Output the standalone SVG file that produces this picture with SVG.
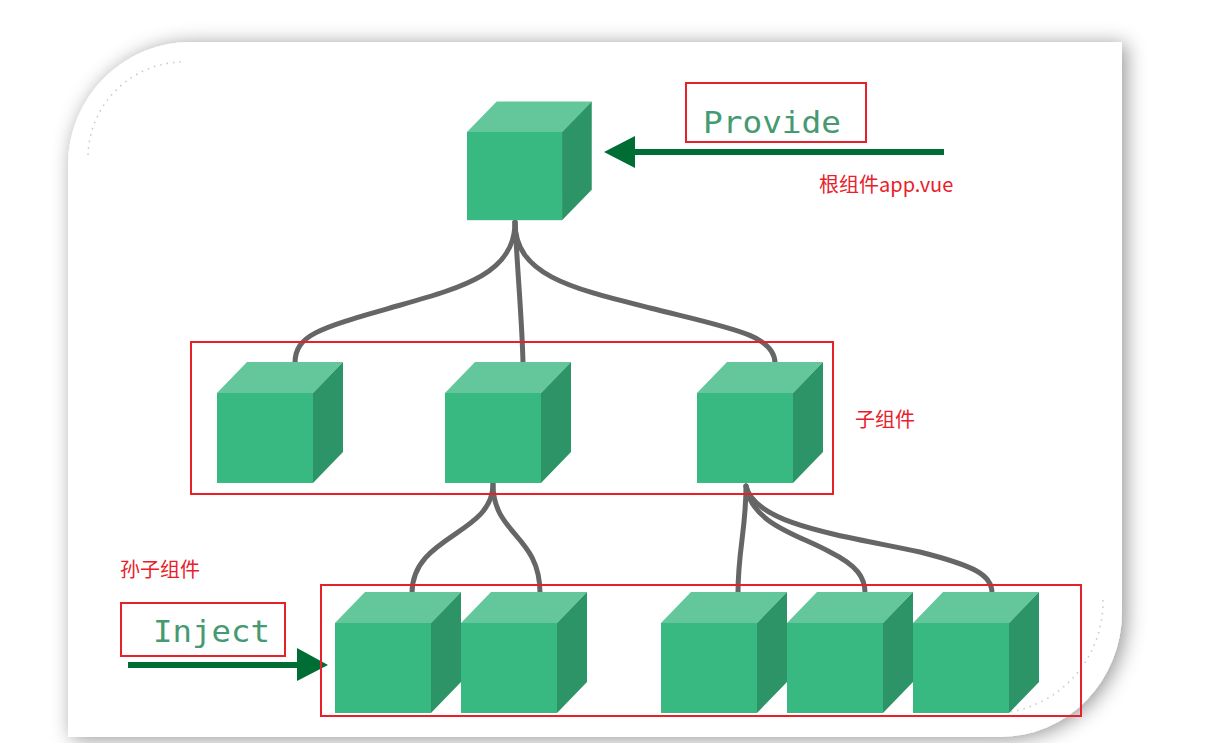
<svg xmlns="http://www.w3.org/2000/svg" xmlns:xlink="http://www.w3.org/1999/xlink" width="1229" height="743" viewBox="0 0 1229 743">
<style>
.card{fill:#ffffff}
.link{fill:none;stroke:#666666;stroke-width:5;stroke-linecap:round}
.arrow{fill:none;stroke:#006d34;stroke-width:6}
.head{fill:#006d34}
.redbox{fill:none;stroke:#e8202a;stroke-width:2}
.redtxt{fill:#e8202a;font-family:"Noto Sans CJK SC","Liberation Sans",sans-serif;font-size:20px}
.code{fill:#459a71;font-family:"DejaVu Sans Mono","Liberation Mono",monospace;font-size:30px}
.dots{fill:none;stroke:#c8c8c8;stroke-width:1.5;stroke-dasharray:1.5 5}
.front{fill:#39b982}
.top{fill:#63c79b}
.side{fill:#2d9467}
</style>
<defs>
<filter id="shadow" x="-10%" y="-10%" width="120%" height="120%">
<feDropShadow dx="4" dy="2" stdDeviation="10" flood-color="#000" flood-opacity="0.42"/>
</filter>
<g id="cube">
<polygon class="top" points="0,0 30,-31 126,-31 96,0"/>
<polygon class="side" points="96,0 126,-31 126,59 96,90"/>
<rect class="front" x="0" y="0" width="96" height="90"/>
</g>
</defs>
<rect width="1229" height="743" fill="#ffffff"/>
<path class="card" filter="url(#shadow)" d="M68,750 L68,165 A123,123 0 0 1 191,42 L1122,42 L1122,612 A122,125 0 0 1 1000,737 L68,737 Z"/>
<path class="dots" d="M88,155 A96,96 0 0 1 182,62"/>
<path class="dots" d="M1103,600 A112,112 0 0 1 1010,712"/>
<g id="connectors">
<path class="link" d="M515,222 C515,275 460,288 390,308 C320,328 295,335 295,363"/>
<path class="link" d="M515,222 C518,280 522,320 523,363"/>
<path class="link" d="M515,222 C515,275 570,288 650,308 C730,328 775,335 775,363"/>
<path class="link" d="M493,484 C493,535 412,535 412,593"/>
<path class="link" d="M493,484 C493,535 540,535 540,593"/>
<path class="link" d="M746,486 C746,530 738,550 738,593"/>
<path class="link" d="M746,486 C752,525 800,535 830,552 C858,566 865,578 865,593"/>
<path class="link" d="M746,486 C756,525 840,535 920,552 C975,566 992,575 992,593"/>
<line class="arrow" x1="944" y1="152" x2="630" y2="152"/>
<polygon class="head" points="604,152 635,136 635,168"/>
<line class="arrow" x1="128" y1="665" x2="300" y2="665"/>
<polygon class="head" points="328,665 297,648 297,681"/>
</g>
<g id="root-cube"><use xlink:href="#cube" transform="translate(467,132) scale(0.99,0.98)"/></g>
<g id="child-1"><use xlink:href="#cube" transform="translate(217,393)"/></g>
<g id="child-2"><use xlink:href="#cube" transform="translate(445,393)"/></g>
<g id="child-3"><use xlink:href="#cube" transform="translate(697,393)"/></g>
<g id="grandchild-1"><use xlink:href="#cube" transform="translate(335,623)"/></g>
<g id="grandchild-2"><use xlink:href="#cube" transform="translate(461,623)"/></g>
<g id="grandchild-3"><use xlink:href="#cube" transform="translate(661,623)"/></g>
<g id="grandchild-4"><use xlink:href="#cube" transform="translate(787,623)"/></g>
<g id="grandchild-5"><use xlink:href="#cube" transform="translate(913,623)"/></g>
<g id="provide">
<rect class="redbox" x="686" y="83" width="180" height="59"/>
<text class="code" x="703" y="133" textLength="138" lengthAdjust="spacingAndGlyphs">Provide</text>
</g>
<g id="inject">
<rect class="redbox" x="121" y="603" width="164" height="53"/>
<text class="code" x="153" y="642" textLength="117" lengthAdjust="spacingAndGlyphs">Inject</text>
</g>
<g id="children-box"><rect class="redbox" x="191" y="342" width="642" height="152"/></g>
<g id="grandchildren-box"><rect class="redbox" x="321" y="585" width="760" height="131"/></g>
<g id="labels">
<text class="redtxt" x="819" y="192">根组件app.vue</text>
<text class="redtxt" x="855" y="427">子组件</text>
<text class="redtxt" x="120" y="577">孙子组件</text>
</g>
</svg>
